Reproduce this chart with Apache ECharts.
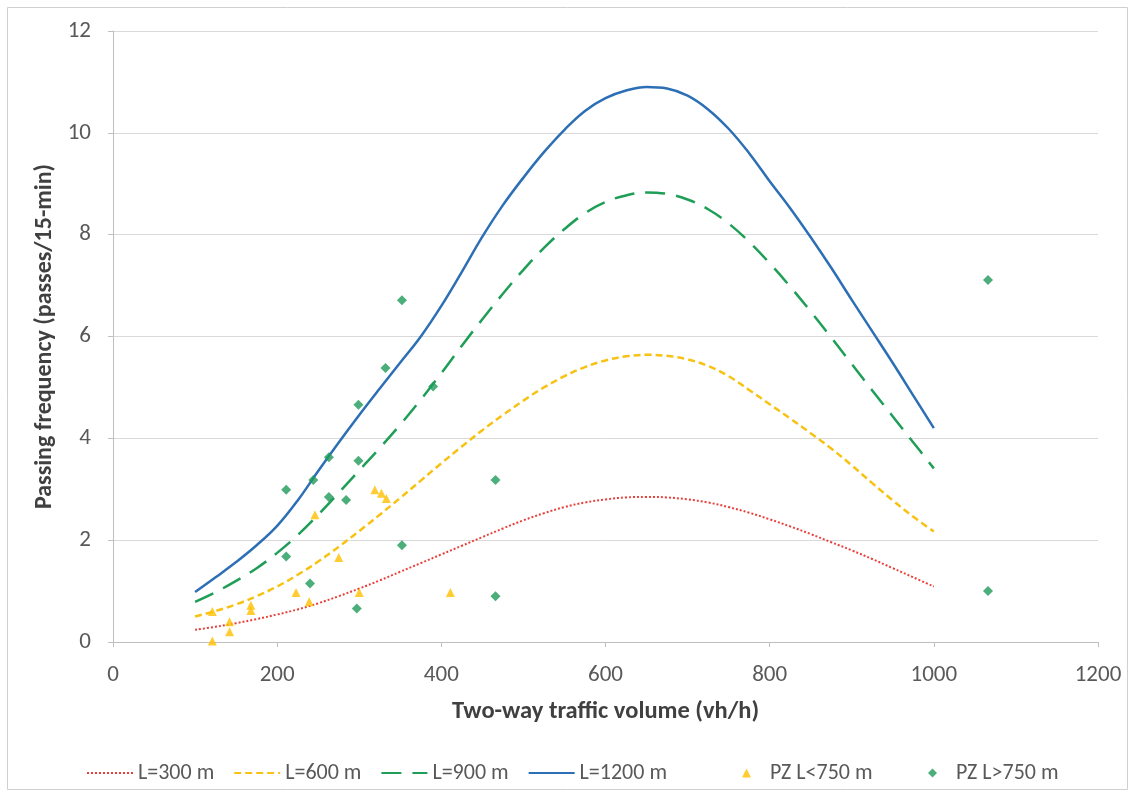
<!DOCTYPE html>
<html>
<head>
<meta charset="utf-8">
<script src="https://cdn.jsdelivr.net/npm/echarts@6/dist/echarts.min.js"></script>
<style>
html,body{margin:0;padding:0;background:#fff;}
#chart{width:1136px;height:796px;}
</style>
</head>
<body>
<div id="chart"></div>
<script>
// Data
var volume = [100,125,150,175,200,225,250,275,300,325,350,375,400,425,450,475,500,525,550,575,600,625,650,675,700,725,750,775,800,825,850,875,900,925,950,975,1000];
var L300  = [0.24,0.30,0.37,0.45,0.54,0.64,0.76,0.90,1.05,1.21,1.38,1.55,1.72,1.89,2.06,2.23,2.39,2.53,2.65,2.74,2.80,2.84,2.85,2.84,2.80,2.74,2.65,2.54,2.41,2.27,2.12,1.96,1.80,1.63,1.45,1.27,1.09];
var L600  = [0.50,0.61,0.74,0.90,1.09,1.32,1.58,1.87,2.18,2.50,2.83,3.17,3.51,3.84,4.16,4.46,4.74,5.00,5.22,5.40,5.53,5.61,5.64,5.62,5.55,5.42,5.22,4.95,4.67,4.39,4.10,3.80,3.47,3.12,2.78,2.46,2.17];
var L900  = [0.79,0.98,1.20,1.45,1.75,2.10,2.50,2.93,3.37,3.81,4.27,4.76,5.28,5.82,6.34,6.84,7.31,7.74,8.11,8.42,8.64,8.77,8.83,8.80,8.69,8.50,8.22,7.86,7.44,6.98,6.49,5.98,5.46,4.94,4.43,3.92,3.41];
var L1200 = [0.98,1.27,1.57,1.90,2.28,2.78,3.36,3.92,4.46,4.98,5.49,6.00,6.60,7.27,7.96,8.58,9.12,9.62,10.06,10.43,10.68,10.83,10.90,10.87,10.73,10.46,10.08,9.60,9.05,8.52,7.95,7.35,6.72,6.10,5.48,4.84,4.20];

var pzLowX = [121,121,142,142,168,168,223,239,246,275,300,319,327,333,411];
var pzLowY = [0.60,0.02,0.40,0.20,0.72,0.62,0.97,0.79,2.50,1.66,0.97,2.99,2.92,2.82,0.97];

var pzHighX = [352,332,299,390,263,299,244,211,263,284,352,211,240,297,466,466,1066,1066];
var pzHighY = [6.71,5.38,4.66,5.02,3.63,3.56,3.18,2.99,2.85,2.79,1.90,1.68,1.15,0.66,3.18,0.90,7.11,1.00];

var xTicks = [0,200,400,600,800,1000,1200];
var yTicks = [0,2,4,6,8,10,12];

var seriesNames = ['L=300 m','L=600 m','L=900 m','L=1200 m','PZ L<750 m','PZ L>750 m'];

function pairs(xs, ys){ return xs.map(function(x,i){ return [x, ys[i]]; }); }

var FONT = 'Carlito, Lato, "Open Sans", sans-serif';
var TXT = '#595959';
var SM = 0.4;
var legendText = {color:TXT,fontSize:22,fontFamily:FONT};

var chart = echarts.init(document.getElementById('chart'), null, {renderer:'canvas'});
chart.setOption({
  animation:false,
  backgroundColor:'#ffffff',
  textStyle:{fontFamily:FONT},
  graphic:[{
    type:'rect', shape:{x:7.5,y:7.5,width:1120,height:782},
    style:{fill:'none',stroke:'#d0d0d0',lineWidth:1}, silent:true, z:-1
  }],
  grid:{left:113,top:31,right:38,bottom:154,containLabel:false},
  legend:[{
    data:seriesNames.slice(0,4),
    left:81, top:757, itemWidth:46, itemHeight:10, itemGap:19,
    itemStyle:{opacity:0},
    textStyle:legendText
  },{
    data:[seriesNames[4]],
    left:737, top:757, itemWidth:9, itemHeight:9,
    textStyle:Object.assign({padding:[0,0,0,14]}, legendText)
  },{
    data:[seriesNames[5]],
    left:923, top:757, itemWidth:9, itemHeight:9,
    textStyle:Object.assign({padding:[0,0,0,14]}, legendText)
  }],
  xAxis:{
    type:'value', min:xTicks[0], max:xTicks[xTicks.length-1], interval:200,
    name:'Two-way traffic volume (vh/h)', nameLocation:'middle', nameGap:57,
    nameTextStyle:{color:'#404040',fontSize:24.5,fontWeight:'bold',fontFamily:FONT},
    axisLine:{show:true,lineStyle:{color:'#bfbfbf',width:1}},
    axisTick:{show:true,length:5,lineStyle:{color:'#bfbfbf'}},
    axisLabel:{color:TXT,fontSize:23,margin:22,fontFamily:FONT,
      formatter:function(v){ return String(v); }},
    splitLine:{show:false}
  },
  yAxis:{
    type:'value', min:yTicks[0], max:yTicks[yTicks.length-1], interval:2,
    name:'Passing frequency (passes/15-min)', nameLocation:'middle', nameGap:55,
    nameTextStyle:{color:'#404040',fontSize:24,fontWeight:'bold',fontFamily:FONT},
    axisLine:{show:true,lineStyle:{color:'#bfbfbf',width:1}},
    axisTick:{show:true,length:5,lineStyle:{color:'#bfbfbf'}},
    axisLabel:{color:TXT,fontSize:23,margin:22,fontFamily:FONT,
      formatter:function(v){ return String(v); }},
    splitLine:{show:true,lineStyle:{color:'#d9d9d9',width:1}}
  },
  series:[
    {name:seriesNames[0], type:'line', smooth:SM, showSymbol:false, symbol:'none',
     data:pairs(volume,L300), itemStyle:{color:'#e8413c'},
     lineStyle:{color:'#e8413c',width:2,type:[2,2]}, z:3},
    {name:seriesNames[1], type:'line', smooth:SM, showSymbol:false, symbol:'none',
     data:pairs(volume,L600), itemStyle:{color:'#f7c213'},
     lineStyle:{color:'#f7c213',width:2.5,type:[7,4]}, z:3},
    {name:seriesNames[2], type:'line', smooth:SM, showSymbol:false, symbol:'none',
     data:pairs(volume,L900), itemStyle:{color:'#1f9e57'},
     lineStyle:{color:'#1f9e57',width:2.5,type:[20,11]}, z:3},
    {name:seriesNames[3], type:'line', smooth:SM, showSymbol:false, symbol:'none',
     data:pairs(volume,L1200), itemStyle:{color:'#2d6fb5'},
     lineStyle:{color:'#2d6fb5',width:2.5}, z:3},
    {name:seriesNames[4], type:'scatter', symbol:'triangle', symbolSize:9,
     data:pairs(pzLowX,pzLowY), itemStyle:{color:'#ffc000'}, z:4},
    {name:seriesNames[5], type:'scatter', symbol:'diamond', symbolSize:10,
     data:pairs(pzHighX,pzHighY), itemStyle:{color:'#1f9a5a'}, z:4}
  ]
});
</script>
</body>
</html>
